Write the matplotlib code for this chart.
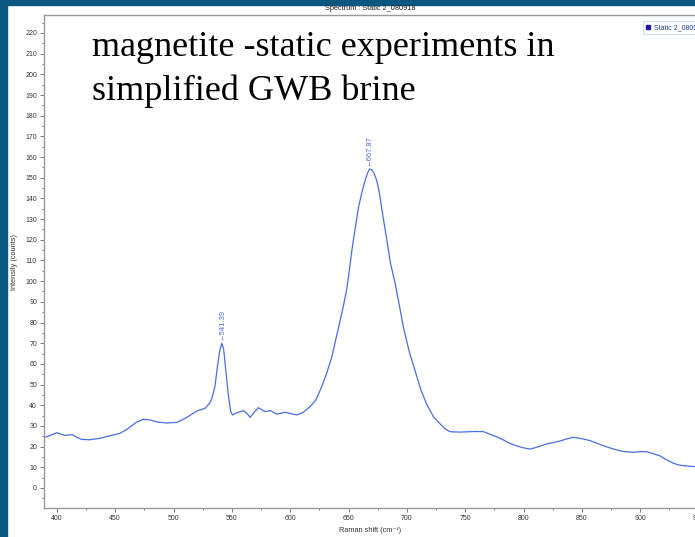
import matplotlib
matplotlib.use('Agg')
import matplotlib.pyplot as plt
from matplotlib.patches import Rectangle
from matplotlib.ticker import MultipleLocator

# Raman spectrum
shift = [389, 392, 400, 407, 413, 417, 421, 428, 437, 446, 454, 460, 468, 474, 480,
         486, 494, 503, 511, 520, 527, 531, 533, 535.5, 537.5, 539.5, 541.4, 543, 545,
         547, 549, 550.5, 555, 560, 563, 565.7, 569, 572.8, 578.5, 582.8, 588.6, 595.7,
         600, 605.7, 611, 617, 622, 627, 631, 635.7, 639, 642.9, 645.8, 648.6, 650.8,
         652.9, 656, 658.5, 661.5, 664.3, 666.5, 668, 670, 672, 674.3, 676.5, 679.5,
         682.9, 686, 690, 694, 697, 702, 708.6, 712, 717, 722.8, 728.5, 733, 737, 745,
         754, 760, 765.7, 772, 778, 782.8, 788, 794.3, 800, 805.7, 812, 820, 826, 831.4,
         837, 842.8, 850, 857, 862, 868.5, 876, 882.8, 888, 894.2, 900, 905.7, 911, 917,
         922, 928.5, 934, 940, 947, 955]
counts = [24.5, 24.9, 26.7, 25.4, 25.8, 24.5, 23.5, 23.3, 24.0, 25.3, 26.4, 28.3, 31.7,
          33.2, 32.9, 31.9, 31.4, 31.7, 34.0, 37.2, 38.5, 41.0, 43.5, 49, 58, 66, 70.0,
          67, 56, 45, 37, 35.3, 36.5, 37.4, 36, 34.1, 36.5, 38.8, 36.9, 37.4, 35.7, 36.6,
          36, 35.3, 36.5, 39.3, 42.5, 48.9, 55, 63.4, 71.5, 81.2, 88.5, 96.5, 105.5,
          115, 126.5, 135.5, 143, 148.8, 152.5, 154.2, 153.8, 152, 148.5, 142.5, 131.5,
          119.8, 108.5, 98.9, 87, 77.9, 66, 53.8, 47.5, 40.5, 34.4, 31, 28.5, 27.2, 27.0,
          27.2, 27.3, 27.2, 25.8, 24.5, 23.2, 21.6, 20.3, 19.4, 18.8, 19.8, 21.3, 22.0,
          22.7, 23.7, 24.5, 23.8, 22.9, 21.8, 20.4, 19.0, 17.9, 17.5, 17.2, 17.6, 17.5,
          16.6, 15.5, 13.8, 11.9, 11.0, 10.6, 10.3, 10.1]

peak_pos = [541.39, 667.87]
peak_val = [70.0, 154.2]
peak_text = ['541.39', '667.87']

series_name = 'Static 2_080918'
blue = '#4a6ee0'
plt.rcParams['font.family'] = ['Liberation Sans', 'DejaVu Sans']

W, H = 695, 537
fig = plt.figure(figsize=(W / 100, H / 100), dpi=100)

# dark slide border on the left and top
fig.patches.append(Rectangle((0, 0), 7 / W, 1, transform=fig.transFigure,
                             color='#0b5780', zorder=0))
fig.patches.append(Rectangle((0, 1 - 5 / H), 1, 5 / H, transform=fig.transFigure,
                             color='#0b5780', zorder=0))

# axes box: left 44px, top 15px, bottom 508px, runs off the right edge
ax = fig.add_axes([44 / W, 29 / H, 666 / W, 493 / H])
ax.plot(shift, counts, color=blue, lw=0.9, label=series_name)
ax.set_xlim(389, 389 + 666 / 1.1667)
ax.set_ylim(-9.7, 228.7)

ax.xaxis.set_major_locator(MultipleLocator(50))
ax.xaxis.set_minor_locator(MultipleLocator(25))
ax.yaxis.set_major_locator(MultipleLocator(10))
ax.yaxis.set_minor_locator(MultipleLocator(5))
ax.tick_params(which='both', direction='out', colors='#666666', labelcolor='#333333',
               labelsize=5, width=0.6)
ax.tick_params(which='major', length=3, pad=2)
ax.tick_params(which='minor', length=1.5)
for side in ['left', 'bottom', 'top']:
    ax.spines[side].set_color('#999999')
    ax.spines[side].set_linewidth(1.0)
ax.spines['right'].set_visible(False)

for xp, yp, t in zip(peak_pos, peak_val, peak_text):
    ax.text(xp, yp + 1.5, '\u2190' + t, rotation=90, ha='center', va='bottom',
            fontsize=5.5, color=blue)

fig.text(370 / W, 1 - 8 / H, 'Spectrum : Static 2_080918', ha='center', va='center',
         fontsize=5.3, color='#222222')
fig.text(15 / W, 1 - 262 / H, 'Intensity (counts)', rotation=90, ha='center',
         va='center', fontsize=5.3, color='#333333')
fig.text(370 / W, 1 - 530 / H, 'Raman shift (cm\u207b\u00b9)', ha='center', va='center',
         fontsize=5.3, color='#333333')

fig.text(92 / W, 1 - 56 / H, 'magnetite -static experiments in',
         family='Liberation Serif', fontsize=26, va='baseline', color='black')
fig.text(92 / W, 1 - 100 / H, 'simplified GWB brine',
         family='Liberation Serif', fontsize=26, va='baseline', color='black')

leg = fig.legend(handles=[plt.Line2D([], [], marker='s', ls='none', color='#1a1aa0',
                                     markersize=2.5)],
                 labels=[series_name], loc='upper left',
                 bbox_to_anchor=(640 / W, 1 - 18 / H), fontsize=5, frameon=True,
                 fancybox=False, handlelength=0.6, handletextpad=0.5,
                 borderpad=0.4, labelcolor='#1a3aa0')
leg.get_frame().set_edgecolor('#b8c8e8')
leg.get_frame().set_linewidth(0.6)

fig.savefig('out.png', dpi=100)
